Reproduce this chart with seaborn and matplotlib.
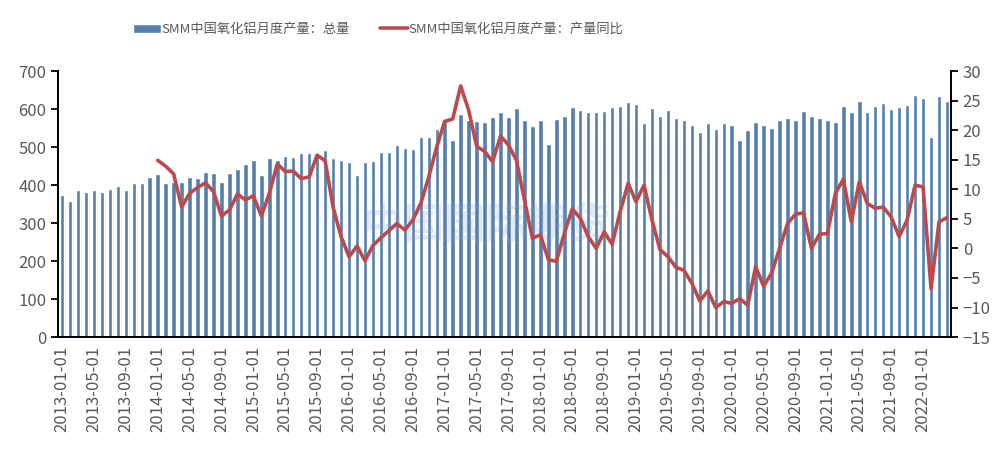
import numpy as np
import pandas as pd
import matplotlib
matplotlib.use("Agg")
import matplotlib.pyplot as plt
import seaborn as sns

# ---- data (monthly, 2013-01 .. 2022-04) ----
months = pd.date_range("2013-01-01", "2022-04-01", freq="MS").strftime("%Y-%m-%d").tolist()

# SMM China alumina monthly output, total (10k t)
total = [374, 358, 387, 382, 387, 382, 389, 397, 387, 405, 405, 421,
         429, 405, 408, 408, 421, 418, 434, 432, 408, 432, 442, 455,
         466, 426, 471, 466, 476, 474, 484, 484, 484, 492, 471, 466,
         461, 426, 461, 463, 487, 487, 505, 497, 495, 526, 526, 547,
         571, 518, 587, 571, 568, 566, 579, 592, 579, 603, 571, 555,
         571, 508, 574, 582, 605, 597, 592, 592, 595, 605, 608, 618,
         613, 563, 603, 582, 597, 576, 571, 558, 539, 563, 547, 563,
         558, 518, 545, 566, 558, 550, 571, 576, 571, 595, 582, 576,
         571, 566, 608, 592, 621, 592, 608, 616, 600, 605, 610, 637,
         629, 526, 634, 621]

# year-on-year change (%), starts 2014-01
yoy = [14.9, 13.9, 12.6, 7.0, 9.3, 10.3, 11.1, 9.6, 5.5, 6.5, 9.2, 8.2,
       8.9, 5.5, 9.3, 14.3, 13.0, 13.1, 11.8, 12.1, 15.8, 14.8, 7.0, 2.0,
       -1.4, 0.4, -2.1, 0.5, 1.8, 3.0, 4.2, 3.1, 4.8, 7.6, 12.1, 17.2,
       21.5, 21.9, 27.5, 23.4, 17.3, 16.4, 14.7, 19.0, 17.5, 14.9, 8.2, 1.7,
       2.3, -1.9, -2.2, 2.5, 6.7, 5.1, 2.0, 0.0, 2.8, 0.7, 6.2, 11.0,
       7.9, 10.7, 4.8, -0.2, -1.4, -3.2, -3.7, -5.9, -8.9, -7.2, -10.0, -9.0,
       -9.3, -8.5, -9.6, -3.1, -6.4, -4.2, 0.0, 4.2, 5.8, 6.0, 0.0, 2.4,
       2.5, 9.3, 11.7, 4.5, 11.3, 7.6, 6.8, 7.0, 5.3, 2.0, 4.8, 10.7,
       10.4, -6.8, 4.5, 5.2]

label_total = "SMM中国氧化铝月度产量：总量"
label_yoy = "SMM中国氧化铝月度产量：产量同比"

df = pd.DataFrame({"month": months, "total": total})
df["pos"] = np.arange(len(df))
df["yoy"] = [np.nan] * (len(months) - len(yoy)) + yoy

# ---- style ----
sns.set_style("white")
plt.rcParams["font.family"] = ["Noto Sans CJK SC", "DejaVu Sans"]

bar_color = "#5580AE"
line_color = "#BC4A4C"
text_color = "#595959"

fig = plt.figure(figsize=(10.06, 4.5), dpi=100)
ax = fig.add_axes([0.0577, 0.251, 0.8876, 0.591])

sns.barplot(data=df, x="month", y="total", color=bar_color, width=0.56,
            saturation=1, ax=ax, label=label_total)
ax.set_xlim(-0.5, len(df) - 0.5)
ax.set_ylim(0, 700)
ax.set_yticks(range(0, 701, 100))

ax2 = ax.twinx()
sns.lineplot(data=df, x="pos", y="yoy", color=line_color, linewidth=2.6,
             ax=ax2, label=label_yoy)
ax2.set_ylim(-15, 30)
ax2.set_yticks(range(-15, 31, 5))
ax2.set_xlim(-0.5, len(df) - 0.5)

# x ticks: labels every 4 months, marks between categories
lab_pos = list(range(0, len(df), 4))
ax.set_xticks(lab_pos)
ax.set_xticklabels([months[i] for i in lab_pos], rotation=90)
ax.set_xticks([p - 0.5 for p in lab_pos] + [len(df) - 0.5], minor=True)
ax.tick_params(axis="x", which="major", length=0, pad=6,
               labelsize=12, labelcolor=text_color)
ax.tick_params(axis="x", which="minor", length=5, width=1.3, color="black", direction="out")
ax.tick_params(axis="y", length=5, width=1.3, color="black", direction="out",
               labelsize=12, labelcolor=text_color)
ax2.tick_params(axis="y", length=5, width=1.3, color="black", direction="out",
                labelsize=12, labelcolor=text_color)

for a in (ax, ax2):
    a.set_xlabel("")
    a.set_ylabel("")
    a.spines["top"].set_visible(False)
    for s in ("left", "bottom", "right"):
        a.spines[s].set_color("black")
        a.spines[s].set_linewidth(1.3)
    if a.get_legend() is not None:
        a.get_legend().remove()

# faint source watermark
ax.text(0.48, 0.42, "中国国际期货", transform=ax.transAxes, fontsize=30,
        color="#7d9ccf", alpha=0.22, ha="center", va="center", fontweight="bold")

# legend on top
h1, l1 = ax.get_legend_handles_labels()
h2, l2 = ax2.get_legend_handles_labels()
fig.legend(h1 + h2, l1 + l2, loc="center left", bbox_to_anchor=(0.132, 0.935),
           ncol=2, frameon=False, fontsize=9.5, labelcolor=text_color,
           borderpad=0, borderaxespad=0,
           handlelength=2.1, handletextpad=0.05, columnspacing=2.3)

fig.savefig("out.png", dpi=100)
